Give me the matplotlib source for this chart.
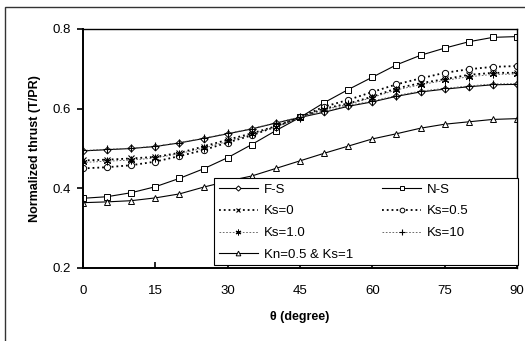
import matplotlib
matplotlib.use("Agg")
from matplotlib import pyplot as plt
from matplotlib.patches import Rectangle
import numpy as np

plt.rcParams['font.family'] = ['Liberation Sans', 'DejaVu Sans']

theta = [0, 5, 10, 15, 20, 25, 30, 35, 40, 45, 50, 55, 60, 65, 70, 75, 80, 85, 90]

fs = [0.494, 0.497, 0.500, 0.505, 0.514, 0.525, 0.537, 0.549, 0.564, 0.578, 0.591, 0.606,
      0.617, 0.631, 0.642, 0.649, 0.655, 0.660, 0.661]
ns = [0.375, 0.379, 0.389, 0.404, 0.425, 0.449, 0.477, 0.510, 0.545, 0.578, 0.615, 0.648,
      0.679, 0.710, 0.734, 0.752, 0.768, 0.779, 0.781]
ks0 = [0.470, 0.472, 0.475, 0.479, 0.489, 0.505, 0.522, 0.538, 0.556, 0.578, 0.600, 0.613,
       0.630, 0.651, 0.664, 0.674, 0.685, 0.690, 0.690]
ks05 = [0.450, 0.453, 0.458, 0.467, 0.481, 0.496, 0.515, 0.533, 0.555, 0.578, 0.605, 0.622,
        0.642, 0.661, 0.676, 0.690, 0.699, 0.705, 0.707]
ks1 = [0.465, 0.468, 0.471, 0.476, 0.487, 0.501, 0.518, 0.536, 0.554, 0.577, 0.598, 0.611,
       0.628, 0.647, 0.660, 0.671, 0.680, 0.686, 0.687]
ks10 = [0.495, 0.498, 0.501, 0.506, 0.515, 0.526, 0.538, 0.550, 0.565, 0.579, 0.593, 0.608,
        0.619, 0.633, 0.644, 0.651, 0.657, 0.662, 0.663]
kn = [0.364, 0.366, 0.369, 0.376, 0.386, 0.403, 0.418, 0.431, 0.450, 0.469, 0.488, 0.506,
      0.524, 0.537, 0.551, 0.561, 0.567, 0.573, 0.575]

fig = plt.figure(figsize=(5.25, 3.41), dpi=100)
ax = fig.add_axes([83/525, 1-268/341, 434/525, 239/341])

# outer chart frame (cut off at right/bottom like the reference)
fig.patches.append(Rectangle((5/525, -0.2), 1.2, 1.2 - 7/341, transform=fig.transFigure,
                             fill=False, ec='#333333', lw=1.0))

ms = 4.5
lw = 0.8
h_fs, = ax.plot(theta, fs, '-', color='black', lw=lw, marker='D', ms=ms-1, mfc='white', mec='black', mew=0.7, label='F-S')
h_ns, = ax.plot(theta, ns, '-', color='black', lw=lw, marker='s', ms=ms, mfc='white', mec='black', mew=0.7, label='N-S')
h_k0, = ax.plot(theta, ks0, ':', color='black', lw=1.3, marker='x', ms=ms, mec='black', mew=0.8, label='Ks=0')
h_k05, = ax.plot(theta, ks05, ':', color='black', lw=1.3, marker='o', ms=ms, mfc='white', mec='black', mew=0.7, label='Ks=0.5')
h_k1, = ax.plot(theta, ks1, '--', color='#555555', lw=0.6, dashes=(2, 2), marker=(6, 2, 0), ms=ms+1, mec='black', mew=0.7, label='Ks=1.0')
h_k10, = ax.plot(theta, ks10, '--', color='#555555', lw=0.6, dashes=(2, 2), marker='+', ms=ms+1, mec='black', mew=0.8, label='Ks=10')
h_kn, = ax.plot(theta, kn, '-', color='black', lw=lw, marker='^', ms=ms, mfc='white', mec='black', mew=0.7, label='Kn=0.5 & Ks=1')

ax.set_xlim(0, 90)
ax.set_ylim(0.2, 0.8)
ax.set_xticks([0, 15, 30, 45, 60, 75, 90])
ax.set_yticks([0.2, 0.4, 0.6, 0.8])
ax.set_yticklabels(['0.2', '0.4', '0.6', '0.8'])
ax.tick_params(axis='x', direction='in', length=4, width=1.2, labelsize=9.5, pad=12)
ax.tick_params(axis='y', direction='out', length=4, width=1.2, labelsize=9.5, pad=5)
for s in ax.spines.values():
    s.set_linewidth(1.0)
ax.spines['left'].set_linewidth(1.4)
ax.spines['bottom'].set_linewidth(1.4)

ax.set_xlabel('θ (degree)', fontsize=9, fontweight='bold', labelpad=10)
ax.set_ylabel('Normalized thrust (T/PR)', fontsize=9, fontweight='bold', labelpad=8)

# legend box
ax.add_patch(Rectangle((0.302, 0.0126), 0.70, 0.364, transform=ax.transAxes, fc='white',
                       ec='black', lw=0.8, zorder=4.5, clip_on=False))
handles = [h_fs, h_k0, h_k1, h_kn, h_ns, h_k05, h_k10]
leg = ax.legend(handles=handles, ncol=2, loc='upper left', bbox_to_anchor=(0.302, 0.376),
                frameon=False, fontsize=9.5, handlelength=2.9, handletextpad=0.5,
                columnspacing=2.2, labelspacing=0.72, borderpad=0.4, borderaxespad=0,
                markerscale=0.75)
leg.set_zorder(5)

plt.savefig('out.png', dpi=100)
